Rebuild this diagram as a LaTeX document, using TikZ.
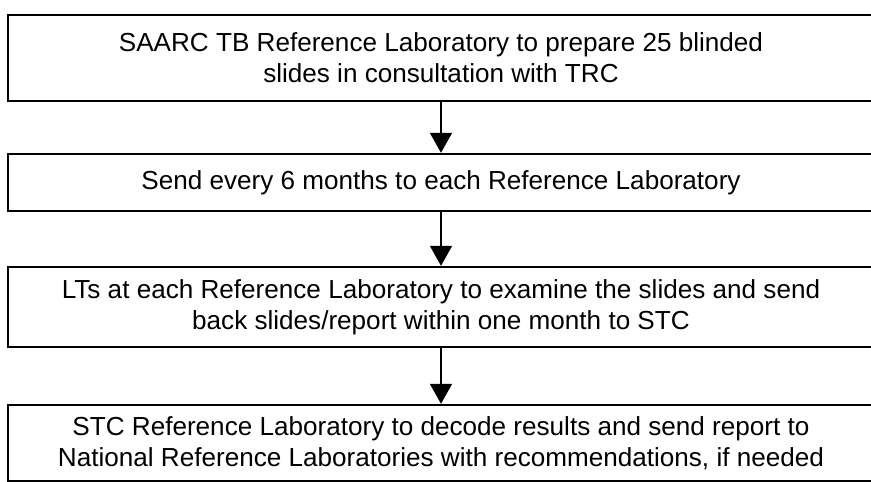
\documentclass[tikz,border=0pt]{standalone}
\usepackage{fontspec}
\setmainfont{Liberation Sans}
\usetikzlibrary{arrows.meta}
\begin{document}
\begin{tikzpicture}[x=1pt,y=-1pt,
  flowbox/.style={draw=black, line width=2.4pt, rectangle, minimum width=866pt,
    align=center, inner sep=0pt,
    font=\fontsize{26.1}{31}\selectfont},
  flowarrow/.style={line width=1.8pt, -{Triangle[width=22pt,length=20pt]}}]
\useasboundingbox (0,0) rectangle (871,482);
\clip (0,0) rectangle (871,482);
\fill[white] (0,0) rectangle (871,482);
\node[flowbox, minimum height=86pt] (b1) at (441,58)
  {SAARC TB Reference Laboratory to prepare 25 blinded\\slides in consultation with TRC};
\node[flowbox, minimum height=57pt] (b2) at (441,182.5)
  {Send every 6 months to each Reference Laboratory};
\node[flowbox, minimum height=80pt] (b3) at (441,307)
  {LTs at each Reference Laboratory to examine the slides and send\\back slides/report within one month to STC};
\node[flowbox, minimum height=76pt] (b4) at (441,443)
  {STC Reference Laboratory to decode results and send report to\\National Reference Laboratories with recommendations, if needed};
\draw[flowarrow] (b1.south) -- (b2.north);
\draw[flowarrow] (b2.south) -- (b3.north);
\draw[flowarrow] (b3.south) -- (b4.north);
\end{tikzpicture}
\end{document}
